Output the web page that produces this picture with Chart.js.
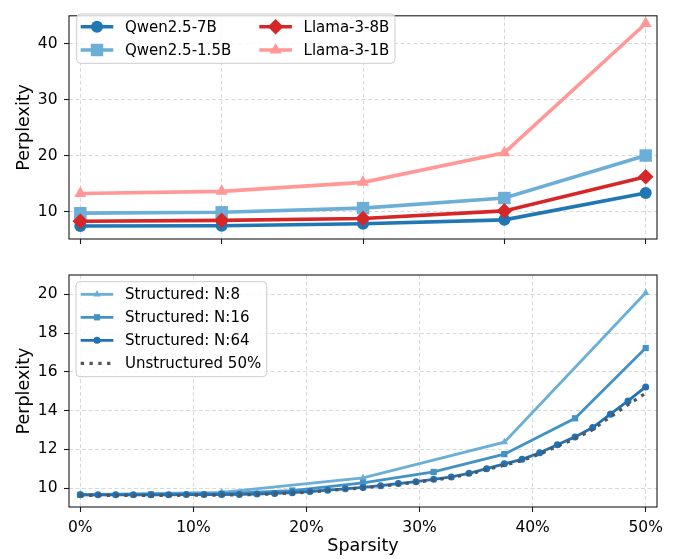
<!DOCTYPE html>
<html><head><meta charset="utf-8">
<script src="https://cdn.jsdelivr.net/npm/chart.js@4.4.1/dist/chart.umd.min.js"></script>
<style>
html,body{margin:0;padding:0;background:#fff;}
#wrap{position:relative;width:677px;height:559px;overflow:hidden;}
#c1{position:absolute;left:0;top:0;}
#c2{position:absolute;left:0;top:256px;}
</style></head><body>
<div id="wrap">
<canvas id="c1" width="677" height="256"></canvas>
<canvas id="c2" width="677" height="303"></canvas>
</div>
<script>
// ---------- data ----------
const topSparsity = [0, 12.5, 25, 37.5, 50];
const topLabels = ['Qwen2.5-7B', 'Qwen2.5-1.5B', 'Llama-3-8B', 'Llama-3-1B'];
const qwen7b  = [7.4, 7.45, 7.8, 8.5, 13.3];
const qwen15b = [9.7, 9.85, 10.6, 12.4, 20.0];
const llama8b = [8.25, 8.4, 8.75, 10.1, 16.2];
const llama1b = [13.2, 13.6, 15.2, 20.5, 43.6];
const topYTicks = [10, 20, 30, 40];

const sparsityN8  = [0, 12.5, 25, 37.5, 50];
const sparsityN16 = [0, 6.25, 12.5, 18.75, 25, 31.25, 37.5, 43.75, 50];
const sparsityN64 = [0, 1.5625, 3.125, 4.6875, 6.25, 7.8125, 9.375, 10.9375, 12.5, 14.0625, 15.625, 17.1875,
  18.75, 20.3125, 21.875, 23.4375, 25, 26.5625, 28.125, 29.6875, 31.25, 32.8125, 34.375, 35.9375,
  37.5, 39.0625, 40.625, 42.1875, 43.75, 45.3125, 46.875, 48.4375, 50];
const bottomLabels = ['Structured: N:8', 'Structured: N:16', 'Structured: N:64', 'Unstructured 50%'];
const pplN8  = [9.66, 9.78, 10.52, 12.37, 20.08];
const pplN16 = [9.65, 9.67, 9.71, 9.87, 10.27, 10.83, 11.75, 13.6, 17.23];
const pplN64 = [9.65, 9.65, 9.65, 9.65, 9.65, 9.65, 9.66, 9.66, 9.66, 9.67, 9.69, 9.72,
  9.76, 9.82, 9.89, 9.96, 10.03, 10.12, 10.23, 10.33, 10.45, 10.57, 10.76, 11.0,
  11.25, 11.48, 11.82, 12.23, 12.64, 13.12, 13.81, 14.5, 15.22];
const pplUnstructured = [9.62, 9.62, 9.62, 9.62, 9.62, 9.62, 9.63, 9.63, 9.64, 9.65, 9.67, 9.7,
  9.74, 9.8, 9.87, 9.94, 10.01, 10.09, 10.19, 10.3, 10.41, 10.54, 10.72, 10.95,
  11.18, 11.42, 11.75, 12.15, 12.55, 13.02, 13.68, 14.3, 14.9];
const bottomXTicks = [0, 10, 20, 30, 40, 50];
const bottomYTicks = [10, 12, 14, 16, 18, 20];

// ---------- helpers ----------
const FONT = 'DejaVu Sans';
Chart.defaults.font.family = FONT;
Chart.defaults.color = '#000';
const zip = (xs, ys) => xs.map((x, i) => ({x: x, y: ys[i]}));

function drawMarker(ctx, style, r, x, y) {
  ctx.beginPath();
  if (style === 'circle') {
    ctx.arc(x, y, r, 0, Math.PI * 2);
  } else if (style === 'rect') {
    const s = r * Math.SQRT1_2;
    ctx.rect(x - s, y - s, 2 * s, 2 * s);
  } else if (style === 'rectRot') {
    ctx.moveTo(x, y - r); ctx.lineTo(x + r, y); ctx.lineTo(x, y + r); ctx.lineTo(x - r, y);
    ctx.closePath();
  } else if (style === 'triangle') {
    for (let k = 0; k < 3; k++) {
      const a = k * 2 * Math.PI / 3;
      const px = x + Math.sin(a) * r, py = y - Math.cos(a) * r;
      if (k === 0) ctx.moveTo(px, py); else ctx.lineTo(px, py);
    }
    ctx.closePath();
  }
  ctx.fill();
}

const framePlugin = {
  id: 'frame',
  afterDatasetsDraw(chart) {
    const a = chart.chartArea, ctx = chart.ctx;
    ctx.save();
    ctx.strokeStyle = '#1a1a1a';
    ctx.lineWidth = 1.1;
    ctx.strokeRect(a.left, a.top, a.right - a.left, a.bottom - a.top);
    ctx.restore();
  }
};

const boxLegendPlugin = {
  id: 'boxLegend',
  afterDraw(chart, args, opts) {
    const ctx = chart.ctx;
    ctx.save();
    ctx.beginPath();
    ctx.roundRect(opts.x, opts.y, opts.w, opts.h, 4);
    ctx.fillStyle = 'rgba(255,255,255,0.8)';
    ctx.fill();
    ctx.strokeStyle = '#cccccc';
    ctx.lineWidth = 1;
    ctx.stroke();
    chart.data.datasets.forEach((ds, i) => {
      const col = Math.floor(i / opts.rows), row = i % opts.rows;
      const lx = opts.x0 + col * opts.colW;
      const ly = opts.y0 + row * opts.rowH;
      ctx.beginPath();
      ctx.setLineDash(ds.borderDash || []);
      ctx.strokeStyle = ds.borderColor;
      ctx.lineWidth = ds.borderWidth;
      ctx.lineCap = 'butt';
      ctx.moveTo(lx, ly);
      ctx.lineTo(lx + opts.handle, ly);
      ctx.stroke();
      ctx.setLineDash([]);
      if (ds.pointRadius > 0) {
        ctx.fillStyle = ds.pointBackgroundColor;
        drawMarker(ctx, ds.pointStyle, ds.pointRadius, lx + opts.handle / 2, ly);
      }
      ctx.fillStyle = '#000';
      ctx.font = opts.fontSize + 'px "' + FONT + '"';
      ctx.textBaseline = 'middle';
      ctx.textAlign = 'left';
      ctx.fillText(ds.label, lx + opts.textOff, ly + 1);
    });
    ctx.restore();
  }
};

function fixedTicks(vals) {
  return function(scale) { scale.ticks = vals.map(v => ({value: v})); };
}

function lineDs(label, xs, ys, color, style, radius, width, order, dash) {
  return {
    label: label, data: zip(xs, ys), borderColor: color, backgroundColor: color,
    pointBackgroundColor: color, pointBorderWidth: 0, pointRadius: radius, pointHoverRadius: radius,
    pointStyle: style, borderWidth: width, tension: 0, order: order, borderDash: dash || [],
    fill: false, clip: false
  };
}

const gridCommon = {color: 'rgba(0,0,0,0.15)', lineWidth: 1, tickColor: '#1a1a1a', tickLength: 5, tickWidth: 1.1};
const borderCommon = {display: false, dash: [4, 2.5]};

// ---------- top chart ----------
new Chart(document.getElementById('c1'), {
  type: 'line',
  data: {
    datasets: [
      lineDs(topLabels[0], topSparsity, qwen7b, '#1f77b4', 'circle', 6, 3.6, 4),
      lineDs(topLabels[1], topSparsity, qwen15b, '#6baed6', 'rect', 8.8, 3.6, 3),
      lineDs(topLabels[2], topSparsity, llama8b, '#d62728', 'rectRot', 7.8, 3.6, 2),
      lineDs(topLabels[3], topSparsity, llama1b, '#ff9896', 'triangle', 7, 3.6, 1)
    ]
  },
  options: {
    responsive: false, animation: false, events: [],
    layout: {padding: {left: 0, right: 20, top: 6, bottom: 0}},
    plugins: {
      legend: {display: false}, tooltip: {enabled: false},
      boxLegend: {x: 76.7, y: 14, w: 318.3, h: 49.3, rows: 2, x0: 80.7, y0: 26.7, colW: 178.6, rowH: 23.3, handle: 32.6, textOff: 44.3, fontSize: 15}
    },
    scales: {
      x: {type: 'linear', min: -1, max: 51, afterBuildTicks: fixedTicks(topSparsity),
          afterFit: s => { s.height = 17; },
          ticks: {display: false}, grid: gridCommon, border: borderCommon},
      y: {type: 'linear', min: 5.08, max: 44.97, afterBuildTicks: fixedTicks(topYTicks),
          afterFit: s => { s.width = 69; },
          ticks: {font: {size: 15.5}, padding: 6.5, color: '#000'},
          title: {display: true, text: 'Perplexity', font: {size: 17.5}, color: '#000', padding: {top: 14, bottom: 0}},
          grid: gridCommon, border: borderCommon}
    }
  },
  plugins: [framePlugin, boxLegendPlugin]
});

// ---------- bottom chart ----------
new Chart(document.getElementById('c2'), {
  type: 'line',
  data: {
    datasets: [
      lineDs(bottomLabels[0], sparsityN8, pplN8, '#6baed6', 'triangle', 4.3, 2.8, 4),
      lineDs(bottomLabels[1], sparsityN16, pplN16, '#4292c6', 'rect', 4.4, 2.8, 3),
      lineDs(bottomLabels[2], sparsityN64, pplN64, '#2171b5', 'circle', 3.5, 2.8, 2),
      lineDs(bottomLabels[3], sparsityN64, pplUnstructured, '#555555', 'circle', 0, 3.2, 1, [3.3, 5.5])
    ]
  },
  options: {
    responsive: false, animation: false, events: [],
    layout: {padding: {left: 0, right: 20, top: 19, bottom: 0}},
    plugins: {
      legend: {display: false}, tooltip: {enabled: false},
      boxLegend: {x: 76, y: 281.7 - 256, w: 190.7, h: 95, rows: 4, x0: 80.7, y0: 294.3 - 256, colW: 0, rowH: 23, handle: 32.6, textOff: 44.3, fontSize: 15}
    },
    scales: {
      x: {type: 'linear', min: -1, max: 51, afterBuildTicks: fixedTicks(bottomXTicks),
          afterFit: s => { s.height = 52; },
          ticks: {font: {size: 15.5}, padding: 7, color: '#000', callback: v => v + '%'},
          title: {display: true, text: 'Sparsity', font: {size: 17.5}, color: '#000', padding: {top: 0, bottom: 2}},
          grid: gridCommon, border: borderCommon},
      y: {type: 'linear', min: 9.02, max: 21.0, afterBuildTicks: fixedTicks(bottomYTicks),
          afterFit: s => { s.width = 69; },
          ticks: {font: {size: 15.5}, padding: 6.5, color: '#000'},
          title: {display: true, text: 'Perplexity', font: {size: 17.5}, color: '#000', padding: {top: 14, bottom: 0}},
          grid: gridCommon, border: borderCommon}
    }
  },
  plugins: [framePlugin, boxLegendPlugin]
});
</script>
</body></html>
